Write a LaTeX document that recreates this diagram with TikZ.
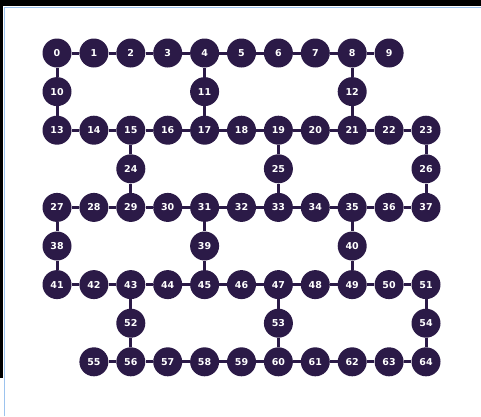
\documentclass[tikz,border=0pt]{standalone}
\usepackage{fontspec}
\setsansfont{DejaVu Sans}
\usetikzlibrary{positioning}
\definecolor{QubitDark}{HTML}{2B1A47}
\definecolor{FrameBlue}{HTML}{9CC3EE}
\tikzset{
  qubit/.style={circle,fill=QubitDark,minimum size=29pt,inner sep=0pt,
    text=white,font=\sffamily\bfseries\fontsize{9.5}{10}\selectfont},
  link/.style={QubitDark,line width=3pt}
}

\begin{document}
\begin{tikzpicture}[x=1pt,y=-1pt]
  \useasboundingbox (0,0) rectangle (481,416);
  % screenshot frame
  \fill[black] (0,0) rectangle (481,6);
  \fill[black] (0,0) rectangle (3,378);
  \draw[FrameBlue,line width=1.5pt] (4.5,416) -- (4.5,7.5) -- (481,7.5);
  % long rows: (first qubit, first column, last column, row)
  \foreach \first/\cfrom/\cto/\r in {0/0/9/0,13/0/10/2,27/0/10/4,41/0/10/6,55/1/10/8}{
    \foreach \c [evaluate=\c as \q using int(\first+\c-\cfrom)] in {\cfrom,...,\cto}
      \node[qubit] (q\q) at ({57+36.9*\c},{53+38.6*\r}) {\q};
  }
  % bridge qubits
  \foreach \q/\c/\r in {10/0/1,11/4/1,12/8/1,24/2/3,25/6/3,26/10/3,
                        38/0/5,39/4/5,40/8/5,52/2/7,53/6/7,54/10/7}
    \node[qubit] (q\q) at ({57+36.9*\c},{53+38.6*\r}) {\q};
  % horizontal links along each long row
  \foreach \from/\to in {0/8,13/22,27/36,41/50,55/63}
    \foreach \a in {\from,...,\to}{
      \pgfmathtruncatemacro{\b}{\a+1}
      \draw[link] (q\a) -- (q\b);
    }
  % vertical links
  \foreach \a/\m/\b in {0/10/13,4/11/17,8/12/21,15/24/29,19/25/33,23/26/37,
                        27/38/41,31/39/45,35/40/49,43/52/56,47/53/60,51/54/64}
    \draw[link] (q\a) -- (q\m) -- (q\b);
\end{tikzpicture}
\end{document}
